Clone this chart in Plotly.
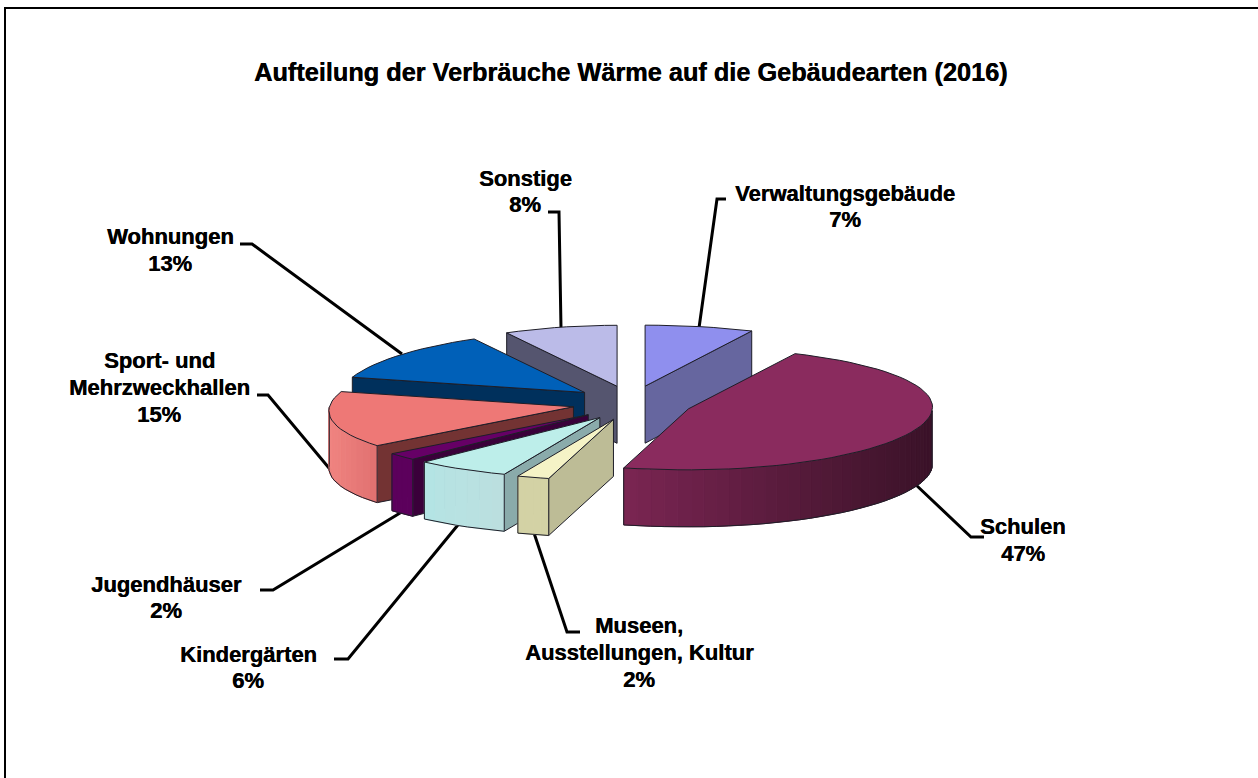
import math
import plotly.graph_objects as go

# --- data -----------------------------------------------------------------
categories = ["Verwaltungsgebäude", "Schulen", "Museen, Ausstellungen, Kultur", "Kindergärten",
              "Jugendhäuser", "Sport- und Mehrzweckhallen", "Wohnungen", "Sonstige"]
values = [7, 47, 2, 6, 2, 15, 13, 8]
percent_labels = ["7%", "47%", "2%", "6%", "2%", "15%", "13%", "8%"]
top_colors = ["#8f8fee", "#8a2b5e", "#f5f3c6", "#bdeeea", "#660066", "#ee7876", "#0060b8", "#bbbbe8"]
radial_colors = ["#66669f", "#5a1c3e", "#bdbc96", "#8aabab", "#3a003a", "#733333", "#00305c", "#55556f"]
side_left_colors = ["#66669f", "#7a2552", "#d3d2a5", "#b4e4e4", "#5c005c", "#f08480", "#00305c", "#55556f"]
side_right_colors = ["#66669f", "#3a1228", "#d3d2a5", "#bcdfdf", "#5c005c", "#e07070", "#00305c", "#55556f"]
draw_order = [0, 7, 6, 5, 4, 3, 2, 1]

# --- projection (tilted disc with slight perspective and skew) -------------
CX, CY = 632, 403
R, K, DEPTH, EXPLODE = 244, 0.25, 57, 60
PERSP = 0.02
SKEW = 6
EXPLODE_K = 0.2875
OUTLINE = "#1e1e28"


def rim_point(cx, cy, ang):
    rx = R * (1 - PERSP * math.cos(ang))
    shift = SKEW * math.cos(ang) * abs(math.sin(ang)) * 2
    return cx + rx * math.sin(ang) + shift, cy - K * R * math.cos(ang)


def mix(c1, c2, t):
    a = [int(c1[i:i + 2], 16) for i in (1, 3, 5)]
    b = [int(c2[i:i + 2], 16) for i in (1, 3, 5)]
    return "#%02x%02x%02x" % tuple(round(p + (q - p) * t) for p, q in zip(a, b))


fig = go.Figure()


def poly(points, fill, line=None):
    xs = [p[0] for p in points] + [points[0][0]]
    ys = [p[1] for p in points] + [points[0][1]]
    fig.add_trace(go.Scatter(x=xs, y=ys, mode="lines", fill="toself", fillcolor=fill,
                             line=dict(color=line or fill, width=1), hoverinfo="skip", showlegend=False))


def path(points):
    fig.add_trace(go.Scatter(x=[p[0] for p in points], y=[p[1] for p in points], mode="lines",
                             line=dict(color=OUTLINE, width=1), hoverinfo="skip", showlegend=False))


total = sum(values)
starts = []
acc = 0
for v in values:
    starts.append(acc / total * 2 * math.pi)
    acc += v

for i in draw_order:
    a0 = starts[i]
    a1 = a0 + values[i] / total * 2 * math.pi
    mid = (a0 + a1) / 2
    cx = CX + EXPLODE * math.sin(mid)
    cy = CY - EXPLODE_K * EXPLODE * math.cos(mid)
    steps = max(4, int((a1 - a0) / math.radians(3)))
    angs = [a0 + (a1 - a0) * n / steps for n in range(steps + 1)]
    rim = [rim_point(cx, cy, a) for a in angs]

    # radial walls that face the viewer
    for edge, visible in ((a0, math.sin(a0) < -0.02), (a1, math.sin(a1) > 0.02)):
        if visible:
            e = rim_point(cx, cy, edge)
            poly([(cx, cy), e, (e[0], e[1] + DEPTH), (cx, cy + DEPTH)], radial_colors[i], OUTLINE)

    # curved outer wall, front half only
    front = [a for a in angs if math.cos(a) <= 0.02]
    if len(front) > 1:
        pts = [rim_point(cx, cy, a) for a in front]
        lo, hi = min(p[0] for p in pts), max(p[0] for p in pts)
        for p, q in zip(pts, pts[1:]):
            t = ((p[0] + q[0]) / 2 - lo) / max(hi - lo, 1)
            col = mix(side_left_colors[i], side_right_colors[i], t)
            poly([p, q, (q[0], q[1] + DEPTH), (p[0], p[1] + DEPTH)], col)
        path([(p[0], p[1] + DEPTH) for p in pts])
        path([pts[0], (pts[0][0], pts[0][1] + DEPTH)])
        path([pts[-1], (pts[-1][0], pts[-1][1] + DEPTH)])

    # top face
    poly([(cx, cy)] + rim, top_colors[i], OUTLINE)

# --- labels ---------------------------------------------------------------
FONT = "Liberation Sans"
SHADOW = "0.4px 0 0 #000"
title = "Aufteilung der Verbräuche Wärme auf die Gebäudearten (2016)"
label_lines = [
    (["Verwaltungsgebäude", percent_labels[0]], 845, [193, 219]),
    (["Schulen", percent_labels[1]], 1023, [526, 553]),
    (["Museen,", "Ausstellungen, Kultur", percent_labels[2]], 639, [625, 652, 679]),
    (["Kindergärten", percent_labels[3]], 248, [654, 680]),
    (["Jugendhäuser", percent_labels[4]], 166, [584, 610]),
    (["Sport- und", "Mehrzweckhallen", percent_labels[5]], 159, [360, 387, 414]),
    (["Wohnungen", percent_labels[6]], 170, [236, 263]),
    (["Sonstige", percent_labels[7]], 525, [178, 204]),
]
annotations = [dict(text="<b>%s</b>" % title, x=630, y=72, xref="x", yref="y", showarrow=False,
                    xanchor="center", yanchor="middle",
                    font=dict(family=FONT, size=25.3, color="black", shadow=SHADOW))]
for lines, x, ys in label_lines:
    for t, y in zip(lines, ys):
        annotations.append(dict(text="<b>%s</b>" % t, x=x, y=y, xref="x", yref="y", showarrow=False,
                                xanchor="center", yanchor="middle",
                                font=dict(family=FONT, size=22, color="black", shadow=SHADOW)))

leaders = [
    [(726, 199), (717, 199), (699, 328)],
    [(915, 484), (971, 537), (984, 537)],
    [(533, 530), (567, 632), (580, 632)],
    [(462, 520), (348, 659), (334, 659)],
    [(405, 510), (273, 590), (260, 590)],
    [(257, 395), (268, 395), (334, 474)],
    [(240, 244), (252, 244), (402, 354)],
    [(548, 212), (559, 212), (561, 328)],
]
shapes = []
for pts in leaders:
    d = "M " + " L ".join("%g %g" % p for p in pts)
    shapes.append(dict(type="path", path=d, xref="x", yref="y", line=dict(color="black", width=3), layer="below"))
shapes.append(dict(type="path", path="M 5 778 L 5 8 L 1258 8", xref="x", yref="y",
                   line=dict(color="black", width=2), layer="below"))

fig.update_layout(
    width=1258, height=778, margin=dict(l=0, r=0, t=0, b=0), autosize=False,
    paper_bgcolor="white", plot_bgcolor="white", showlegend=False,
    xaxis=dict(range=[0, 1258], visible=False, fixedrange=True),
    yaxis=dict(range=[778, 0], visible=False, fixedrange=True),
    annotations=annotations, shapes=shapes,
)
fig.write_html("out.html", config={"displayModeBar": False},
               post_script="document.body.style.margin='0';document.body.style.overflow='hidden';")
